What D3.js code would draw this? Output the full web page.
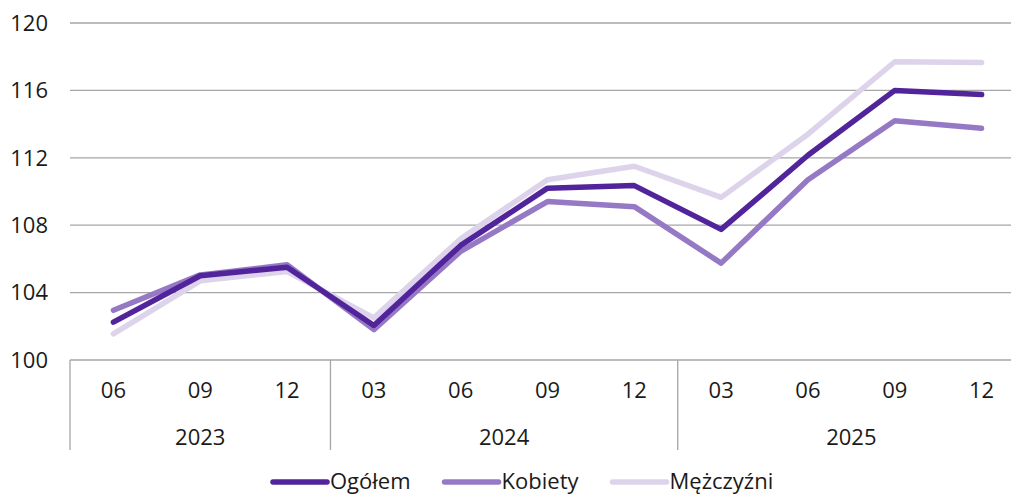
<!DOCTYPE html>
<html>
<head>
<meta charset="utf-8">
<script src="https://cdn.jsdelivr.net/npm/d3@7"></script>
<style>
  body { margin: 0; background: #fff; }
  text { font-family: "Open Sans", "Noto Sans", sans-serif; fill: #1a1a1a; }
</style>
</head>
<body>
<script>
// data
var months = ["06", "09", "12", "03", "06", "09", "12", "03", "06", "09", "12"];
var years = [
    { label: "2023", count: 3 },
    { label: "2024", count: 4 },
    { label: "2025", count: 4 }
];
var ogolem = [102.25, 105.0, 105.5, 102.05, 106.8, 110.2, 110.35, 107.75, 112.15, 116.0, 115.75];
var kobiety = [102.95, 105.05, 105.65, 101.8, 106.45, 109.4, 109.1, 105.75, 110.7, 114.2, 113.75];
var mezczyzni = [101.55, 104.7, 105.25, 102.5, 107.2, 110.7, 111.5, 109.65, 113.4, 117.7, 117.65];
var yTicks = [100, 104, 108, 112, 116, 120];

var series = [
    { name: "Kobiety", values: kobiety, color: "#9679c4" },
    { name: "Mężczyźni", values: mezczyzni, color: "#ddd3eb" },
    { name: "Ogółem", values: ogolem, color: "#52249b" }
];
var legendOrder = ["Ogółem", "Kobiety", "Mężczyźni"];

var width = 1011;
var height = 497;
var fs = 22;

var svg = d3.select("body")
    .append("svg")
    .attr("width", width)
    .attr("height", height);

var plotL = 70, plotR = 1025, plotT = 23, plotB = 360;

var x = d3.scaleBand()
    .domain(d3.range(months.length))
    .range([plotL, plotR]);

var y = d3.scaleLinear()
    .domain([100, 120])
    .range([plotB, plotT]);

// gridlines + y labels
var grid = svg.append("g");
grid.selectAll("line")
    .data(yTicks)
    .enter().append("line")
    .attr("x1", plotL)
    .attr("x2", plotR)
    .attr("y1", function(d) { return y(d); })
    .attr("y2", function(d) { return y(d); })
    .attr("stroke", "#a6a6a6")
    .attr("stroke-width", 1.3);

grid.selectAll("text")
    .data(yTicks)
    .enter().append("text")
    .attr("x", 48)
    .attr("y", function(d) { return y(d); })
    .attr("dy", "0.35em")
    .attr("text-anchor", "end")
    .attr("font-size", fs)
    .text(function(d) { return d; });

// x axis: months and years
var xa = svg.append("g");
xa.selectAll("text.month")
    .data(months)
    .enter().append("text")
    .attr("class", "month")
    .attr("x", function(d, i) { return x(i) + x.bandwidth() / 2; })
    .attr("y", 398)
    .attr("text-anchor", "middle")
    .attr("font-size", fs)
    .text(function(d) { return d; });

var start = 0;
var bounds = [0];
years.forEach(function(yr) {
    yr.start = start;
    start += yr.count;
    bounds.push(start);
});

xa.selectAll("text.year")
    .data(years)
    .enter().append("text")
    .attr("class", "year")
    .attr("x", function(d) { return (x(d.start) + x(d.start + d.count - 1) + x.bandwidth()) / 2; })
    .attr("y", 445)
    .attr("text-anchor", "middle")
    .attr("font-size", fs)
    .text(function(d) { return d.label; });

xa.selectAll("line.sep")
    .data(bounds)
    .enter().append("line")
    .attr("class", "sep")
    .attr("x1", function(d) { return d < months.length ? x(d) : plotR; })
    .attr("x2", function(d) { return d < months.length ? x(d) : plotR; })
    .attr("y1", plotB)
    .attr("y2", 450)
    .attr("stroke", "#a6a6a6")
    .attr("stroke-width", 1.3);

// lines
var line = d3.line()
    .x(function(d, i) { return x(i) + x.bandwidth() / 2; })
    .y(function(d) { return y(d); });

svg.append("g")
    .selectAll("path")
    .data(series)
    .enter().append("path")
    .attr("d", function(d) { return line(d.values); })
    .attr("fill", "none")
    .attr("stroke", function(d) { return d.color; })
    .attr("stroke-width", 5.5)
    .attr("stroke-linecap", "round")
    .attr("stroke-linejoin", "round");

// legend, laid out from measured text widths
var lg = svg.append("g");
var lx = 273;
legendOrder.forEach(function(n) {
    var s = series.find(function(d) { return d.name === n; });
    var item = lg.append("g").attr("transform", "translate(" + lx + ",482)");
    item.append("line")
        .attr("x1", 0)
        .attr("x2", 54)
        .attr("stroke", s.color)
        .attr("stroke-width", 5.5)
        .attr("stroke-linecap", "round");
    var t = item.append("text")
        .attr("x", 57)
        .attr("dy", "0.33em")
        .attr("font-size", fs)
        .text(s.name);
    lx += 57 + t.node().getComputedTextLength() + 34;
});
</script>
</body>
</html>
